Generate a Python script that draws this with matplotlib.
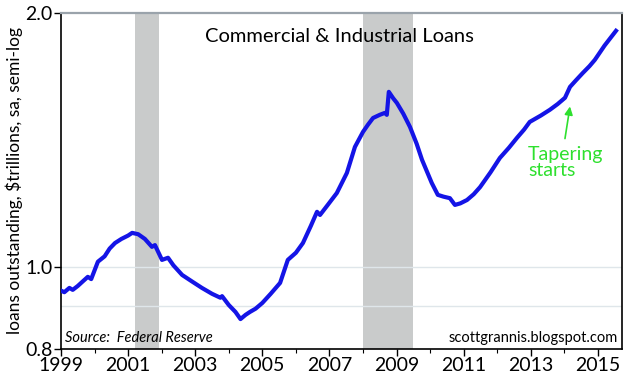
import matplotlib.pyplot as plt
from matplotlib.ticker import FixedLocator, NullLocator

# C&I loans outstanding, $trillions
years = [1999.0, 1999.1, 1999.25, 1999.35, 1999.5, 1999.65, 1999.8, 1999.9, 2000.1,
         2000.3, 2000.45, 2000.61, 2000.8, 2001.0, 2001.12, 2001.3, 2001.5, 2001.71,
         2001.8, 2002.01, 2002.19, 2002.35, 2002.61, 2002.9, 2003.2, 2003.5, 2003.75,
         2003.8, 2004.0, 2004.2, 2004.35, 2004.5, 2004.63, 2004.8, 2005.0, 2005.25,
         2005.53, 2005.76, 2006.0, 2006.21, 2006.45, 2006.63, 2006.72, 2006.95, 2007.22,
         2007.52, 2007.76, 2008.0, 2008.15, 2008.3, 2008.5, 2008.65, 2008.71, 2008.77,
         2008.9, 2009.01, 2009.2, 2009.4, 2009.6, 2009.76, 2010.05, 2010.23, 2010.4,
         2010.59, 2010.74, 2010.9, 2011.1, 2011.3, 2011.49, 2011.8, 2012.08, 2012.35,
         2012.59, 2012.8, 2012.97, 2013.3, 2013.57, 2013.8, 2014.02, 2014.17, 2014.35,
         2014.55, 2014.75, 2014.91, 2015.2, 2015.54]
loans = [0.938, 0.934, 0.945, 0.940, 0.950, 0.962, 0.974, 0.968, 1.015,
         1.030, 1.052, 1.068, 1.080, 1.090, 1.098, 1.094, 1.080, 1.057,
         1.062, 1.020, 1.026, 1.005, 0.979, 0.962, 0.945, 0.930, 0.920,
         0.924, 0.902, 0.885, 0.868, 0.878, 0.885, 0.893, 0.907, 0.930,
         0.958, 1.020, 1.040, 1.068, 1.120, 1.163, 1.153, 1.185, 1.224,
         1.293, 1.388, 1.446, 1.475, 1.502, 1.515, 1.523, 1.515, 1.613,
         1.585, 1.565, 1.520, 1.466, 1.400, 1.340, 1.258, 1.218, 1.212,
         1.207, 1.185, 1.190, 1.201, 1.220, 1.244, 1.295, 1.347, 1.385,
         1.423, 1.455, 1.486, 1.512, 1.536, 1.560, 1.587, 1.635, 1.665,
         1.698, 1.730, 1.760, 1.830, 1.905]

recessions = [(2001.2, 2001.92), (2008.0, 2009.5)]
grid_vals = [0.9, 1.0]
y_ticks = [0.8, 1.0, 2.0]
x_major = list(range(1999, 2016, 2))
x_minor = list(range(2000, 2016, 2))

plt.rcParams['font.family'] = ['Lato', 'DejaVu Sans']

fig = plt.figure(figsize=(6.4, 3.83), dpi=100)
ax = fig.add_axes([0.0953, 0.0888, 0.8766, 0.8773])

for start, end in recessions:
    ax.axvspan(start, end, color='#c9cbcb', lw=0, zorder=0)
for g in grid_vals:
    ax.axhline(g, color='#dfe6ea', lw=1, zorder=0.5)

ax.plot(years, loans, color='#1414e6', lw=3, zorder=3, solid_joinstyle='round')

ax.set_yscale('log')
ax.set_ylim(0.8, 2.0)
ax.set_xlim(1999, 2015.72)
ax.yaxis.set_major_locator(FixedLocator(y_ticks))
ax.yaxis.set_minor_locator(NullLocator())
ax.set_yticklabels(['%.1f' % t for t in y_ticks])
ax.set_xticks(x_major)
ax.set_xticklabels([str(y) for y in x_major])
ax.xaxis.set_minor_locator(FixedLocator(x_minor))

ax.tick_params(axis='both', which='major', labelsize=14, length=5, width=1, direction='out', pad=1)
ax.tick_params(axis='x', which='minor', length=3, width=0.8, direction='out')

ax.spines['top'].set_color('#9aa3ab')
ax.spines['top'].set_linewidth(1.6)
for side in ['left', 'right', 'bottom']:
    ax.spines[side].set_linewidth(1.2)

ax.set_ylabel('loans outstanding, $trillions, sa, semi-log', fontsize=12.5, labelpad=2)

ax.text(0.497, 0.93, 'Commercial & Industrial Loans', transform=ax.transAxes,
        ha='center', va='center', fontsize=14.5)
ax.text(0.008, 0.033, 'Source:  Federal Reserve', transform=ax.transAxes,
        ha='left', va='center', fontsize=10.5, style='italic')
ax.text(0.992, 0.033, 'scottgrannis.blogspot.com', transform=ax.transAxes,
        ha='right', va='center', fontsize=10.5)

ax.text(2012.92, 1.33, 'Tapering\nstarts', ha='left', va='center', fontsize=14,
        color='#2ee02e', linespacing=0.95)
ax.annotate('', xy=(2014.17, 1.55), xytext=(2014.02, 1.42),
            arrowprops=dict(arrowstyle='-|>', color='#2ee02e', lw=1.2, mutation_scale=12,
                            shrinkA=0, shrinkB=0))

fig.savefig('out.png', dpi=100)
